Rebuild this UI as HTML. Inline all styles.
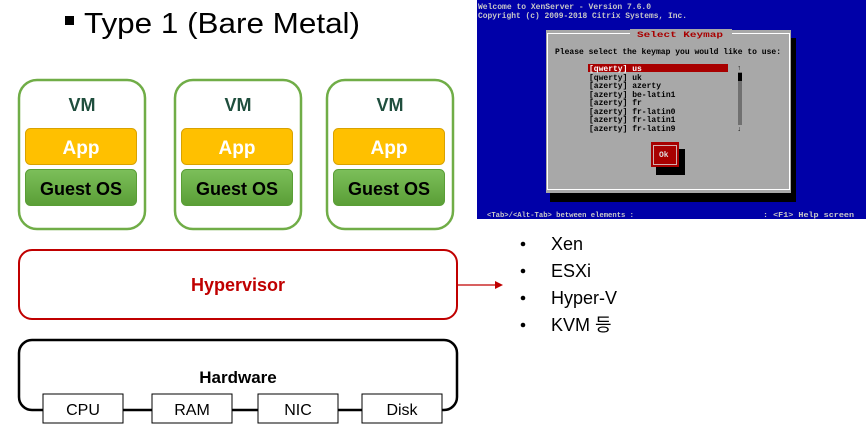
<!DOCTYPE html>
<html><head><meta charset="utf-8"><style>
html,body{margin:0;padding:0;background:#fff;}
body{width:868px;height:431px;position:relative;overflow:hidden;font-family:"Liberation Sans",sans-serif;}
svg{position:absolute;left:0;top:0;}
</style></head><body>
<svg width="868" height="431" xmlns="http://www.w3.org/2000/svg" font-family="Liberation Sans, sans-serif">
<defs>
<linearGradient id="g" x1="0" y1="0" x2="0" y2="1"><stop offset="0" stop-color="#7cbf5a"/><stop offset="1" stop-color="#5a9e36"/></linearGradient>
</defs>
<rect x="65" y="16" width="9" height="9" fill="#000"/>
<text x="84" y="33" font-size="29" fill="#000" textLength="276" lengthAdjust="spacingAndGlyphs">Type 1 (Bare Metal)</text>

<g>
<rect x="19" y="80" width="126" height="149" rx="18" fill="#fff" stroke="#70ad47" stroke-width="2.5"/>
<text x="82" y="111" font-size="18" font-weight="bold" fill="#1f4e3d" text-anchor="middle">VM</text>
<rect x="25.5" y="128.5" width="111" height="36" rx="5" fill="#ffc000" stroke="#d9a200"/>
<text x="81" y="154" font-size="19" font-weight="bold" fill="#fff" text-anchor="middle">App</text>
<rect x="25.5" y="169.5" width="111" height="36" rx="5" fill="url(#g)" stroke="#5a9e36"/>
<text x="81" y="195" font-size="18" font-weight="bold" fill="#000" text-anchor="middle">Guest OS</text>
</g>
<g transform="translate(156,0)">
<rect x="19" y="80" width="126" height="149" rx="18" fill="#fff" stroke="#70ad47" stroke-width="2.5"/>
<text x="82" y="111" font-size="18" font-weight="bold" fill="#1f4e3d" text-anchor="middle">VM</text>
<rect x="25.5" y="128.5" width="111" height="36" rx="5" fill="#ffc000" stroke="#d9a200"/>
<text x="81" y="154" font-size="19" font-weight="bold" fill="#fff" text-anchor="middle">App</text>
<rect x="25.5" y="169.5" width="111" height="36" rx="5" fill="url(#g)" stroke="#5a9e36"/>
<text x="81" y="195" font-size="18" font-weight="bold" fill="#000" text-anchor="middle">Guest OS</text>
</g>
<g transform="translate(308,0)">
<rect x="19" y="80" width="126" height="149" rx="18" fill="#fff" stroke="#70ad47" stroke-width="2.5"/>
<text x="82" y="111" font-size="18" font-weight="bold" fill="#1f4e3d" text-anchor="middle">VM</text>
<rect x="25.5" y="128.5" width="111" height="36" rx="5" fill="#ffc000" stroke="#d9a200"/>
<text x="81" y="154" font-size="19" font-weight="bold" fill="#fff" text-anchor="middle">App</text>
<rect x="25.5" y="169.5" width="111" height="36" rx="5" fill="url(#g)" stroke="#5a9e36"/>
<text x="81" y="195" font-size="18" font-weight="bold" fill="#000" text-anchor="middle">Guest OS</text>
</g>

<rect x="19" y="250" width="438" height="69" rx="13" fill="#fff" stroke="#c00000" stroke-width="2"/>
<text x="238" y="291" font-size="18" font-weight="bold" fill="#c00000" text-anchor="middle">Hypervisor</text>
<line x1="457" y1="285" x2="496" y2="285" stroke="#c00000" stroke-width="1.3"/>
<polygon points="503,285 495,281 495,289" fill="#c00000"/>

<rect x="19" y="340" width="438" height="70" rx="13" fill="#fff" stroke="#000" stroke-width="2.5"/>
<text x="238" y="383" font-size="17" font-weight="bold" fill="#000" text-anchor="middle">Hardware</text>
<g font-size="16" text-anchor="middle" fill="#000">
<rect x="43" y="394" width="80" height="29" fill="#fff" stroke="#000"/><text x="83" y="415">CPU</text>
<rect x="152" y="394" width="80" height="29" fill="#fff" stroke="#000"/><text x="192" y="415">RAM</text>
<rect x="258" y="394" width="80" height="29" fill="#fff" stroke="#000"/><text x="298" y="415">NIC</text>
<rect x="362" y="394" width="80" height="29" fill="#fff" stroke="#000"/><text x="402" y="415">Disk</text>
</g>

<g font-size="18" fill="#000">
<circle cx="523" cy="244" r="2.3"/><text x="551" y="250">Xen</text>
<circle cx="523" cy="271" r="2.3"/><text x="551" y="277">ESXi</text>
<circle cx="523" cy="298" r="2.3"/><text x="551" y="304">Hyper-V</text>
<circle cx="523" cy="325" r="2.3"/><text x="551" y="331" font-family="Liberation Sans, Noto Sans CJK KR, sans-serif">KVM 등</text>
</g>

<rect x="477" y="0" width="389" height="219" fill="#0000a8"/>
<g font-family="Liberation Mono, monospace" font-size="8" font-weight="bold" fill="#c8c8c8" lengthAdjust="spacingAndGlyphs">
<text x="478" y="9" textLength="173" lengthAdjust="spacingAndGlyphs">Welcome to XenServer - Version 7.6.0</text>
<text x="478" y="18" textLength="209" lengthAdjust="spacingAndGlyphs">Copyright (c) 2009-2018 Citrix Systems, Inc.</text>
</g>
<rect x="550" y="38" width="246" height="164" fill="#000"/>
<rect x="546" y="30" width="245" height="163" fill="#a8a8a8"/>
<rect x="547.5" y="33.5" width="242" height="156" fill="none" stroke="#fff" stroke-width="1"/>
<rect x="630" y="29" width="102" height="9" fill="#a8a8a8"/>
<g font-family="Liberation Mono, monospace" font-size="8" font-weight="bold">
<text x="637" y="37" fill="#a80000" textLength="86" lengthAdjust="spacingAndGlyphs">Select Keymap</text>
<text x="555" y="54" fill="#000" textLength="226" lengthAdjust="spacingAndGlyphs">Please select the keymap you would like to use:</text>
<rect x="588" y="64" width="140" height="8" fill="#a80000"/>
<text x="589" y="71" fill="#fff">[qwerty] us</text>
<g fill="#000">
<text x="589" y="80">[qwerty] uk</text>
<text x="589" y="88">[azerty] azerty</text>
<text x="589" y="97">[azerty] be-latin1</text>
<text x="589" y="105">[azerty] fr</text>
<text x="589" y="114">[azerty] fr-latin0</text>
<text x="589" y="122">[azerty] fr-latin1</text>
<text x="589" y="131">[azerty] fr-latin9</text>
</g>
<rect x="738" y="72" width="4" height="53" fill="#707070"/>
<rect x="738" y="73" width="4" height="8" fill="#000"/>
<text x="737" y="70" fill="#000" font-size="7">↑</text>
<text x="737" y="131" fill="#000" font-size="7">↓</text>
<rect x="656" y="149" width="29" height="26" fill="#000"/>
<rect x="651" y="142" width="28" height="25" fill="#a80000"/>
<rect x="653.5" y="145.5" width="23" height="19" fill="none" stroke="#ddd" stroke-width="0.8"/>
<text x="659" y="157" fill="#ddd">Ok</text>
<text x="487" y="217" fill="#c8c8c8" font-size="7.5" textLength="147" lengthAdjust="spacingAndGlyphs">&lt;Tab&gt;/&lt;Alt-Tab&gt; between elements   :</text>
<text x="763" y="217" fill="#c8c8c8" font-size="7.5" textLength="91" lengthAdjust="spacingAndGlyphs">:  &lt;F1&gt; Help screen</text>
</g>
</svg>
</body></html>
